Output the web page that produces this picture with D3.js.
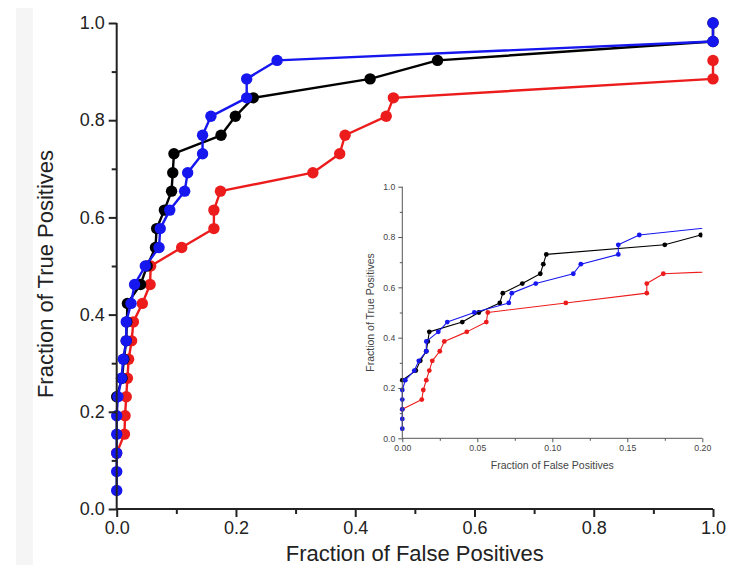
<!DOCTYPE html>
<html>
<head>
<meta charset="utf-8">
<script src="https://cdn.jsdelivr.net/npm/d3@7"></script>
<style>
    body { margin: 0; background: #fff; }
    svg text { font-family: Arial, "Liberation Sans", sans-serif; }
</style>
</head>
<body>
<div id="roc"></div>
<script>
/* * * * * * * * * * * * * *
*   ROC curves, full range plus zoomed inset   *
* * * * * * * * * * * * * */

// false positive fraction / true positive fraction
const blackFpr = [0, 0.009, 0.012, 0.016, 0.017, 0.018, 0.040, 0.051, 0.065, 0.067, 0.080, 0.092, 0.094, 0.096, 0.175, 0.199, 0.229, 0.425, 0.538, 1.0, 1.0];
const blackTpr = [0.231, 0.269, 0.308, 0.346, 0.385, 0.423, 0.462, 0.500, 0.538, 0.577, 0.615, 0.654, 0.692, 0.731, 0.769, 0.808, 0.846, 0.885, 0.923, 0.962, 1.0];

const blueFpr = [0, 0, 0, 0, 0, 0.002, 0.008, 0.011, 0.016, 0.016, 0.024, 0.030, 0.048, 0.071, 0.073, 0.089, 0.114, 0.119, 0.144, 0.144, 0.158, 0.218, 0.218, 0.269, 1.0, 1.0];
const blueTpr = [0.038, 0.077, 0.115, 0.154, 0.192, 0.231, 0.269, 0.308, 0.346, 0.385, 0.423, 0.462, 0.500, 0.538, 0.577, 0.615, 0.654, 0.692, 0.731, 0.769, 0.808, 0.846, 0.885, 0.923, 0.962, 1.0];

const redFpr = [0, 0.013, 0.014, 0.016, 0.018, 0.020, 0.025, 0.028, 0.043, 0.056, 0.057, 0.109, 0.163, 0.163, 0.174, 0.329, 0.374, 0.383, 0.452, 0.464, 1.0, 1.0];
const redTpr = [0.115, 0.154, 0.192, 0.231, 0.269, 0.308, 0.346, 0.385, 0.423, 0.462, 0.500, 0.538, 0.577, 0.615, 0.654, 0.692, 0.731, 0.769, 0.808, 0.846, 0.885, 0.923];

const mainXTicks = [0, 0.2, 0.4, 0.6, 0.8, 1.0];
const mainYTicks = [0, 0.2, 0.4, 0.6, 0.8, 1.0];
const insetXTicks = [0, 0.05, 0.10, 0.15, 0.20];
const insetYTicks = [0, 0.2, 0.4, 0.6, 0.8, 1.0];

// drawing order: red under black under blue
const series = [
    {name: "red", color: "#ec1c1c", fpr: redFpr, tpr: redTpr},
    {name: "black", color: "#000000", fpr: blackFpr, tpr: blackTpr},
    {name: "blue", color: "#1616ee", fpr: blueFpr, tpr: blueTpr}
];
series.forEach(s => {
    s.points = s.fpr.map((d, i) => ({x: d, y: s.tpr[i]}));
});

let width = 742, height = 573;
let svg = d3.select("#roc").append("svg")
    .attr("width", width)
    .attr("height", height);

// the light grey strip at the left edge of the scan
svg.append("rect")
    .attr("x", 16).attr("y", 8)
    .attr("width", 17).attr("height", 557)
    .attr("fill", "#f5f5f5");

function drawAxes(g, x, y, opt) {
    let xAxis = d3.axisBottom(x).tickValues(opt.xTicks).tickFormat(opt.xFormat)
        .tickSize(opt.major).tickPadding(opt.pad);
    let yAxis = d3.axisLeft(y).tickValues(opt.yTicks).tickFormat(opt.yFormat)
        .tickSize(opt.major).tickPadding(opt.pad);
    let xMinor = d3.axisBottom(x).tickValues(opt.xMinor).tickFormat("").tickSize(opt.minor);
    let yMinor = d3.axisLeft(y).tickValues(opt.yMinor).tickFormat("").tickSize(opt.minor);

    let y0 = y.range()[0], x0 = x.range()[0];
    [xAxis, xMinor].forEach(a => {
        g.append("g").attr("transform", `translate(0,${y0})`).call(a)
            .call(s => s.select(".domain").remove());
    });
    [yAxis, yMinor].forEach(a => {
        g.append("g").attr("transform", `translate(${x0},0)`).call(a)
            .call(s => s.select(".domain").remove());
    });
    g.selectAll(".tick line").attr("stroke", opt.axisColor).attr("stroke-width", opt.axisWidth);
    g.selectAll(".tick text")
        .attr("fill", opt.textColor)
        .style("font-size", opt.fontSize + "px");

    // axis lines
    g.append("line")
        .attr("x1", x0).attr("x2", x.range()[1])
        .attr("y1", y0).attr("y2", y0)
        .attr("stroke", opt.axisColor).attr("stroke-width", opt.axisWidth);
    g.append("line")
        .attr("x1", x0).attr("x2", x0)
        .attr("y1", y0).attr("y2", y.range()[1])
        .attr("stroke", opt.axisColor).attr("stroke-width", opt.axisWidth);

    // titles
    g.append("text")
        .attr("x", (x.range()[0] + x.range()[1]) / 2)
        .attr("y", y0 + opt.xTitleOffset)
        .attr("text-anchor", "middle")
        .attr("fill", opt.textColor)
        .style("font-size", opt.titleSize + "px")
        .text("Fraction of False Positives");
    g.append("text")
        .attr("transform", `translate(${x0 - opt.yTitleOffset},${(y.range()[0] + y.range()[1]) / 2 + opt.yTitleShift}) rotate(-90)`)
        .attr("text-anchor", "middle")
        .attr("fill", opt.textColor)
        .style("font-size", opt.titleSize + "px")
        .text("Fraction of True Positives");
}

function drawSeries(g, x, y, r, lw, maxX) {
    let line = d3.line().x(d => x(d.x)).y(d => y(d.y));
    series.forEach(s => {
        let sg = g.append("g").attr("class", "series-" + s.name);
        sg.append("path")
            .datum(s.points)
            .attr("d", line)
            .attr("fill", "none")
            .attr("stroke", s.color)
            .attr("stroke-width", lw)
            .attr("stroke-linejoin", "round");
        sg.selectAll("circle")
            .data(s.points.filter(d => d.x <= maxX))
            .enter()
            .append("circle")
            .attr("cx", d => x(d.x))
            .attr("cy", d => y(d.y))
            .attr("r", r)
            .attr("fill", s.color);
    });
}

// main plot
let x = d3.scaleLinear().domain([0, 1]).range([116.7, 713]);
let y = d3.scaleLinear().domain([0, 1]).range([509, 23]);
let mainG = svg.append("g").attr("class", "main");
drawSeries(mainG.append("g"), x, y, 5.7, 2.4, 1);
drawAxes(mainG, x, y, {
    xTicks: mainXTicks, yTicks: mainYTicks,
    xMinor: [0.1, 0.3, 0.5, 0.7, 0.9], yMinor: [0.1, 0.3, 0.5, 0.7, 0.9],
    xFormat: d3.format(".1f"), yFormat: d3.format(".1f"),
    major: 8, minor: 5, pad: 4,
    axisColor: "#222", axisWidth: 2, textColor: "#222",
    fontSize: 18, titleSize: 22, xTitleOffset: 52, yTitleOffset: 64, yTitleShift: 8
});

// inset plot, zoomed to the low false positive range
let ix = d3.scaleLinear().domain([0, 0.2]).range([402.3, 702.3]);
let iy = d3.scaleLinear().domain([0, 1]).range([438.3, 186.7]);
let insetG = svg.append("g").attr("class", "inset");
insetG.append("clipPath").attr("id", "insetClip")
    .append("rect")
    .attr("x", 398).attr("y", 180)
    .attr("width", 702.3 - 398).attr("height", 262);
drawSeries(insetG.append("g").attr("clip-path", "url(#insetClip)"), ix, iy, 2.4, 1.1, 0.2);
drawAxes(insetG, ix, iy, {
    xTicks: insetXTicks, yTicks: insetYTicks,
    xMinor: [0.025, 0.075, 0.125, 0.175], yMinor: [0.1, 0.3, 0.5, 0.7, 0.9],
    xFormat: d3.format(".2f"), yFormat: d3.format(".1f"),
    major: 4, minor: 2.5, pad: 3,
    axisColor: "#555", axisWidth: 1, textColor: "#444",
    fontSize: 8.7, titleSize: 10.5, xTitleOffset: 31, yTitleOffset: 28, yTitleShift: 0
});
</script>
</body>
</html>
